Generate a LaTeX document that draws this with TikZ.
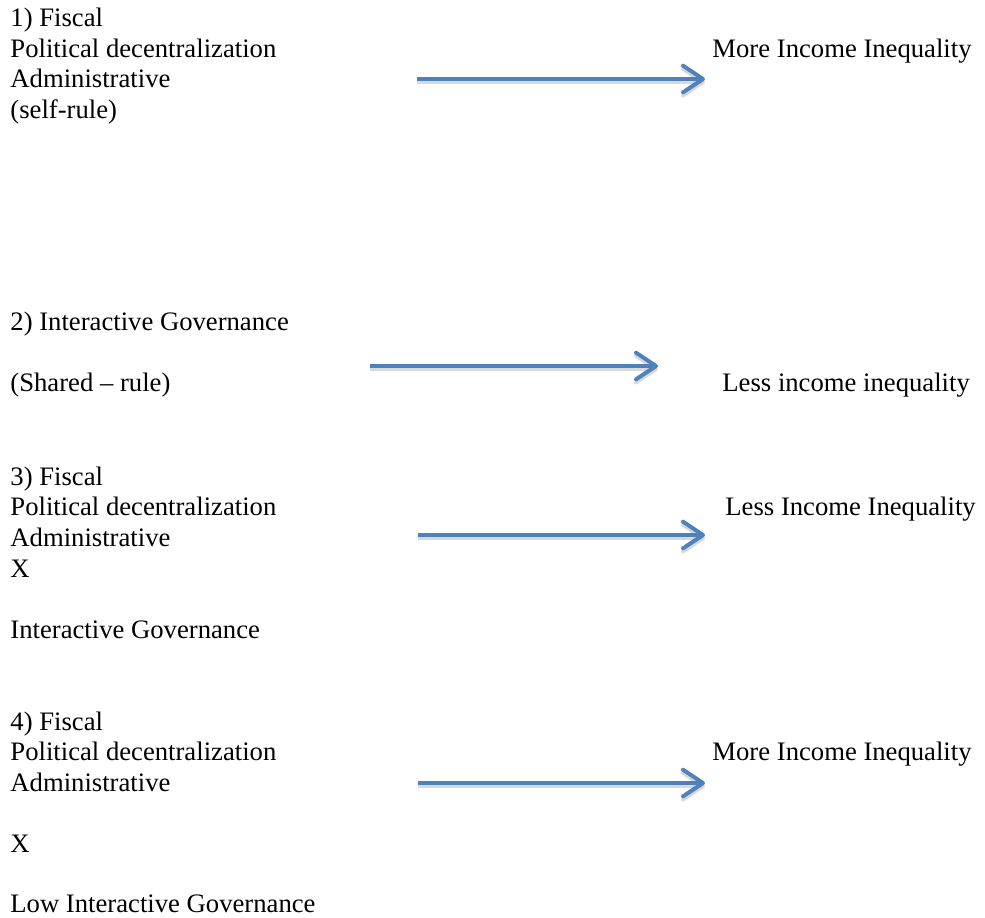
\documentclass[tikz,border=0pt]{standalone}
\usepackage{fontspec}
\setmainfont{Liberation Serif}
\usetikzlibrary{arrows.meta}
\definecolor{arrowblue}{RGB}{79,129,189}
\begin{document}
\begin{tikzpicture}[x=0.45pt, y=-0.45pt,
        t/.style={anchor=base west, inner sep=0pt, font=\fontsize{12pt}{13.8pt}\selectfont},
        arr/.style={arrowblue, line width=1.8pt, -{Straight Barb[length=9pt, width=12pt, line cap=round, line join=round]}},
        shadowarr/.style={arr, black!25, opacity=0.6, transform canvas={yshift=-1.4pt}}]
        \useasboundingbox (0, 0) rectangle (985, 917);

        \node[t] (a1) at (10, 26) {1) Fiscal};
        \node[t] (a2) at (10, 57) {Political decentralization};
        \node[t] (a3) at (10, 87) {Administrative};
        \node[t] (a4) at (10, 118) {(self-rule)};
        \node[t] (ra) at (712, 57) {More Income Inequality};

        \node[t] (b1) at (10, 330) {2) Interactive Governance};
        \node[t] (b2) at (10, 391) {(Shared -- rule)};
        \node[t] (rb) at (722, 391) {Less income inequality};

        \node[t] (c1) at (10, 485) {3) Fiscal};
        \node[t] (c2) at (10, 515) {Political decentralization};
        \node[t] (c3) at (10, 546) {Administrative};
        \node[t] (c4) at (10, 577) {X};
        \node[t] (c5) at (10, 638) {Interactive Governance};
        \node[t] (rc) at (725, 515) {Less Income Inequality};

        \node[t] (d1) at (10, 730) {4) Fiscal};
        \node[t] (d2) at (10, 760) {Political decentralization};
        \node[t] (d3) at (10, 791) {Administrative};
        \node[t] (d4) at (10, 852) {X};
        \node[t] (d5) at (10, 912) {Low Interactive Governance};
        \node[t] (rd) at (712, 760) {More Income Inequality};

        \coordinate (sa) at (417, 79);  \coordinate (ea) at (705, 79);
        \coordinate (sb) at (370, 366); \coordinate (eb) at (658, 366);
        \coordinate (sc) at (418, 535); \coordinate (ec) at (705, 535);
        \coordinate (sd) at (418, 783); \coordinate (ed) at (705, 783);

        \draw[shadowarr] (sa) -- (ea);
        \draw[shadowarr] (sb) -- (eb);
        \draw[shadowarr] (sc) -- (ec);
        \draw[shadowarr] (sd) -- (ed);
        \draw[arr] (sa) -- (ea);
        \draw[arr] (sb) -- (eb);
        \draw[arr] (sc) -- (ec);
        \draw[arr] (sd) -- (ed);
    \end{tikzpicture}
\end{document}
